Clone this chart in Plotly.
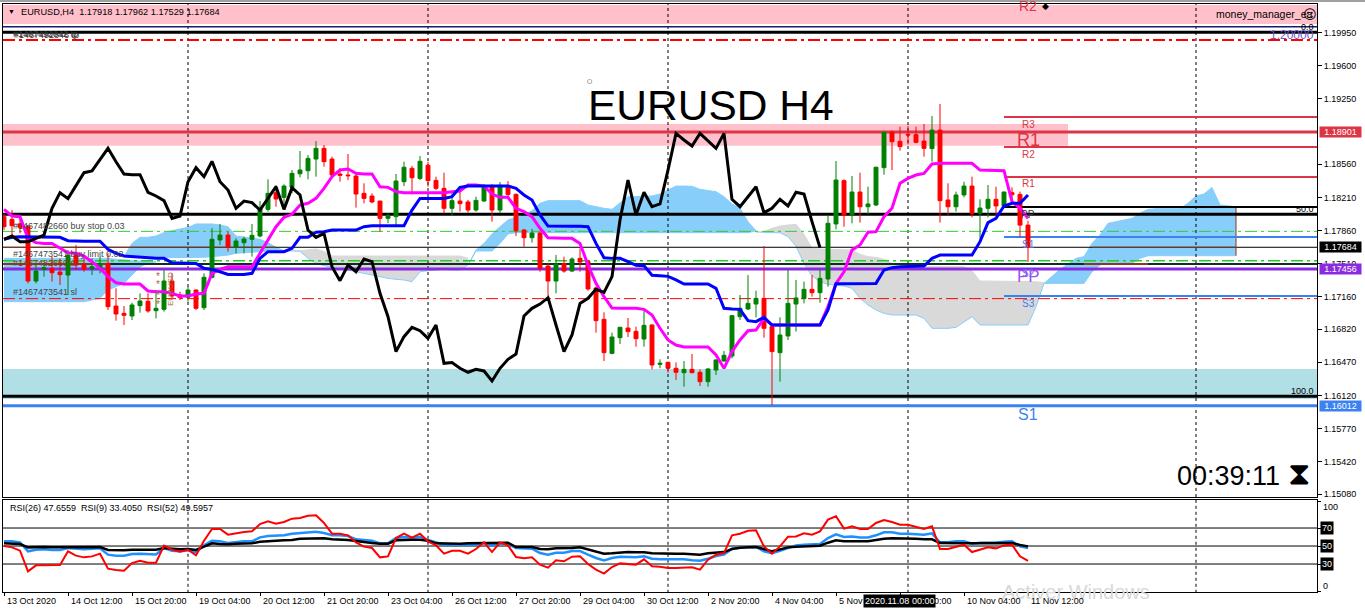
import plotly.graph_objects as go

W, H = 1365, 611
FONT = "Liberation Sans"

# price panel, H4 candles (first bar 13 Oct 2020)
opens = [1.18007,1.17979,1.17930,1.17908,1.17328,1.17451,1.17462,1.17423,1.17391,1.17620,
    1.17504,1.17458,1.17458,1.17514,1.17064,1.16987,1.16959,1.17068,1.17114,1.17015,
    1.17029,1.17328,1.17180,1.17156,1.17233,1.17047,1.17367,1.17761,1.17813,1.17683,
    1.17732,1.17768,1.17803,1.18084,1.18260,1.18211,1.18316,1.18460,1.18492,1.18615,
    1.18728,1.18615,1.18457,1.18446,1.18436,1.18253,1.18225,1.18172,1.17989,1.18007,
    1.18376,1.18517,1.18411,1.18549,1.18390,1.18306,1.18095,1.18172,1.18162,1.18077,
    1.18172,1.18330,1.18077,1.18337,1.18242,1.17866,1.17785,1.17834,1.17486,1.17328,
    1.17511,1.17433,1.17567,1.17536,1.17254,1.16924,1.16565,1.16730,1.16832,1.16797,
    1.16716,1.16864,1.16449,1.16470,1.16407,1.16361,1.16396,1.16365,1.16266,1.16389,
    1.16484,1.16537,1.16952,1.17033,1.17085,1.17145,1.16846,1.16572,1.16748,1.17085,
    1.17142,1.17240,1.17205,1.17349,1.17930,1.18387,1.18025,1.18267,1.18112,1.18130,
    1.18524,1.18897,1.18802,1.18876,1.18872,1.18805,1.18725,1.18921,1.18183,1.18112,
    1.18236,1.18330,1.18042,1.18095,1.18190,1.18120,1.18260,1.18242,1.17918]
highs = [1.18042,1.18077,1.18007,1.17919,1.17497,1.17514,1.17585,1.17567,1.17655,1.17708,
    1.17602,1.17567,1.17585,1.17620,1.17251,1.17064,1.17099,1.17198,1.17198,1.17233,
    1.17444,1.17409,1.17215,1.17268,1.17240,1.17409,1.17884,1.17930,1.17849,1.17778,
    1.17796,1.17930,1.18172,1.18401,1.18341,1.18348,1.18499,1.18700,1.18657,1.18805,
    1.18763,1.18640,1.18517,1.18668,1.18464,1.18359,1.18253,1.18172,1.18042,1.18457,
    1.18587,1.18542,1.18647,1.18587,1.18429,1.18471,1.18271,1.18271,1.18183,1.18218,
    1.18348,1.18351,1.18372,1.18383,1.18253,1.17877,1.17877,1.17849,1.17521,1.17602,
    1.17585,1.17578,1.17673,1.17550,1.17268,1.16998,1.16783,1.16846,1.16938,1.16846,
    1.17029,1.16871,1.16502,1.16477,1.16470,1.16484,1.16558,1.16396,1.16407,1.16502,
    1.16590,1.16969,1.17180,1.17391,1.17226,1.17697,1.16881,1.16945,1.17451,1.17339,
    1.17321,1.17391,1.17444,1.18024,1.18594,1.18401,1.18436,1.18471,1.18323,1.18535,
    1.18904,1.18915,1.18957,1.18964,1.18957,1.18985,1.19069,1.19196,1.18359,1.18271,
    1.18376,1.18429,1.18190,1.18341,1.18323,1.18271,1.18316,1.18271,1.17962]
lows = [1.17866,1.17778,1.17831,1.17303,1.17303,1.17374,1.17321,1.17286,1.17180,1.17444,
    1.17426,1.17391,1.17409,1.17022,1.16910,1.16864,1.16917,1.16994,1.16994,1.16934,
    1.17005,1.17145,1.17128,1.17110,1.17022,1.17022,1.17356,1.17708,1.17638,1.17620,
    1.17620,1.17585,1.17789,1.18060,1.18112,1.18077,1.18253,1.18422,1.18401,1.18429,
    1.18535,1.18429,1.18376,1.18394,1.18102,1.18148,1.18148,1.17849,1.17937,1.17901,
    1.18330,1.18242,1.18394,1.18323,1.18288,1.18042,1.18014,1.18060,1.18049,1.18060,
    1.18165,1.17954,1.18042,1.18200,1.17803,1.17690,1.17733,1.17426,1.17170,1.17198,
    1.17416,1.17426,1.17426,1.17226,1.16783,1.16484,1.16554,1.16663,1.16737,1.16635,
    1.16635,1.16396,1.16407,1.16361,1.16284,1.16213,1.16354,1.16220,1.16213,1.16336,
    1.16477,1.16512,1.16917,1.17022,1.16945,1.16730,1.16020,1.16266,1.16706,1.16794,
    1.17092,1.17163,1.17099,1.17268,1.17873,1.17901,1.17937,1.17944,1.18035,1.18120,
    1.18450,1.18499,1.18703,1.18770,1.18781,1.18640,1.18587,1.17944,1.18024,1.18060,
    1.18211,1.18000,1.17778,1.18000,1.18024,1.18112,1.18148,1.17789,1.17529]
closes = [1.17901,1.17912,1.17894,1.17328,1.17433,1.17469,1.17416,1.17395,1.17602,1.17497,
    1.17451,1.17479,1.17514,1.17057,1.16980,1.16966,1.17075,1.17117,1.17012,1.17040,
    1.17328,1.17170,1.17152,1.17233,1.17040,1.17367,1.17768,1.17813,1.17690,1.17750,
    1.17771,1.17810,1.18095,1.18253,1.18193,1.18330,1.18464,1.18499,1.18622,1.18728,
    1.18587,1.18446,1.18443,1.18439,1.18246,1.18200,1.18162,1.17989,1.18014,1.18383,
    1.18528,1.18418,1.18591,1.18387,1.18306,1.18095,1.18176,1.18144,1.18077,1.18179,
    1.18330,1.18077,1.18337,1.18242,1.17859,1.17785,1.17834,1.17462,1.17328,1.17507,
    1.17433,1.17560,1.17528,1.17244,1.16910,1.16572,1.16737,1.16839,1.16794,1.16720,
    1.16860,1.16442,1.16460,1.16407,1.16365,1.16396,1.16361,1.16266,1.16400,1.16495,
    1.16544,1.16962,1.17040,1.17092,1.17145,1.16829,1.16583,1.16758,1.17092,1.17149,
    1.17240,1.17205,1.17356,1.17937,1.18394,1.18025,1.18267,1.18112,1.18141,1.18528,
    1.18897,1.18798,1.18746,1.18869,1.18791,1.18728,1.18921,1.18176,1.18112,1.18236,
    1.18330,1.18042,1.18098,1.18190,1.18120,1.18267,1.18239,1.17918,1.17684]

# ichimoku lines
chikou = [1.17768,1.17803,1.17743,1.17743,1.17778,1.17813,1.18095,1.18260,1.18197,1.18341,
    1.18471,1.18489,1.18612,1.18728,1.18587,1.18457,1.18450,1.18450,1.18264,1.18225,
    1.18176,1.17989,1.18014,1.18376,1.18524,1.18429,1.18591,1.18376,1.18288,1.18095,
    1.18172,1.18155,1.18077,1.18200,1.18323,1.18084,1.18313,1.18236,1.17866,1.17789,
    1.17831,1.17479,1.17332,1.17497,1.17426,1.17560,1.17532,1.17198,1.16952,1.16583,
    1.16741,1.16839,1.16804,1.16723,1.16864,1.16460,1.16467,1.16407,1.16365,1.16396,
    1.16379,1.16273,1.16407,1.16502,1.16558,1.16959,1.17040,1.17085,1.17152,1.16864,
    1.16583,1.16759,1.17092,1.17145,1.17240,1.17208,1.17374,1.17972,1.18394,1.18025,
    1.18264,1.18112,1.18141,1.18499,1.18886,1.18816,1.18753,1.18886,1.18809,1.18728,
    1.18886,1.18190,1.18112,1.18218,1.18323,1.18049,1.18095,1.18190,1.18120,1.18264,
    1.18246,1.17954,1.17680]
tenkan = [1.18084,1.18014,1.18007,1.17778,1.17733,1.17725,1.17725,1.17673,1.17627,1.17620,
    1.17592,1.17532,1.17462,1.17374,1.17310,1.17296,1.17296,1.17296,1.17223,1.17215,
    1.17215,1.17198,1.17170,1.17170,1.17191,1.17198,1.17409,1.17451,1.17479,1.17479,
    1.17479,1.17479,1.17620,1.17761,1.17901,1.18000,1.18032,1.18130,1.18148,1.18200,
    1.18306,1.18429,1.18499,1.18510,1.18464,1.18457,1.18457,1.18323,1.18316,1.18271,
    1.18260,1.18260,1.18260,1.18260,1.18260,1.18260,1.18271,1.18278,1.18341,1.18341,
    1.18330,1.18246,1.18211,1.18211,1.18095,1.18060,1.18007,1.17884,1.17785,1.17778,
    1.17778,1.17778,1.17725,1.17497,1.17303,1.17163,1.17043,1.17040,1.17040,1.17040,
    1.17029,1.16969,1.16829,1.16706,1.16653,1.16632,1.16632,1.16632,1.16632,1.16548,
    1.16407,1.16583,1.16706,1.16804,1.16811,1.16934,1.16864,1.16864,1.16864,1.16864,
    1.16864,1.16864,1.16864,1.17057,1.17303,1.17426,1.17655,1.17708,1.17842,1.17849,
    1.18007,1.18095,1.18359,1.18411,1.18446,1.18464,1.18563,1.18570,1.18570,1.18570,
    1.18570,1.18570,1.18499,1.18499,1.18499,1.18492,1.18165,1.18095,1.17989]
kijun = [1.17768,1.17789,1.17796,1.17796,1.17796,1.17796,1.17796,1.17789,1.17754,1.17747,
    1.17747,1.17747,1.17747,1.17662,1.17620,1.17592,1.17585,1.17578,1.17567,1.17567,
    1.17567,1.17521,1.17518,1.17518,1.17514,1.17462,1.17451,1.17426,1.17398,1.17398,
    1.17398,1.17409,1.17567,1.17638,1.17638,1.17638,1.17673,1.17789,1.17789,1.17842,
    1.17849,1.17866,1.17866,1.17866,1.17866,1.17901,1.17912,1.17912,1.17912,1.17912,
    1.17912,1.18077,1.18200,1.18200,1.18200,1.18200,1.18218,1.18316,1.18330,1.18330,
    1.18330,1.18330,1.18330,1.18330,1.18306,1.18236,1.18183,1.18025,1.17908,1.17905,
    1.17905,1.17905,1.17905,1.17901,1.17725,1.17574,1.17567,1.17567,1.17532,1.17493,
    1.17490,1.17388,1.17384,1.17377,1.17339,1.17296,1.17296,1.17296,1.17296,1.17251,
    1.17040,1.17033,1.17029,1.16910,1.16899,1.16945,1.16864,1.16864,1.16864,1.16864,
    1.16864,1.16864,1.16864,1.17022,1.17300,1.17300,1.17300,1.17300,1.17300,1.17303,
    1.17444,1.17469,1.17479,1.17479,1.17479,1.17486,1.17567,1.17602,1.17602,1.17602,
    1.17602,1.17602,1.17743,1.17944,1.17989,1.18120,1.18148,1.18148,1.18236]

# cloud pieces, each starts at the bar index given in cloud_starts
cloud_starts = [0, 15, 35, 58, 94, 130]
blue1_top = [1.17567]*14 + [1.17557,1.17550,1.17543,1.17539,1.17532,1.17532]
blue1_bot = [1.17110]*11 + [1.17128,1.17145,1.17233,1.17268,1.17303,1.17391,1.17479,1.17514,1.17532]
blue2_top = [1.17585,1.17725,1.17789,1.17789,1.17803,1.17838,1.17859,1.17873,1.17894,1.17930,1.17930,
    1.17930,1.17919,1.17901,1.17803,1.17789,1.17775,1.17768,1.17733,1.17683,1.17648]
blue2_bot = [1.17585,1.17585,1.17585,1.17585,1.17578,1.17574,1.17574,1.17574,1.17578,1.17578,1.17578,
    1.17585,1.17592,1.17602,1.17620,1.17627,1.17638,1.17638,1.17638,1.17638,1.17648]
gray1_top = [1.17648,1.17655,1.17648,1.17655,1.17666,1.17638] + [1.17592]*17 + [1.17567]
gray1_bot = [1.17648,1.17648,1.17641,1.17567,1.17514,1.17490,1.17472,1.17458,1.17444,1.17426,1.17409,
    1.17391,1.17374,1.17356,1.17346,1.17339,1.17321,1.17426,1.17437,1.17444,1.17451,1.17444,1.17444,1.17497]
blue3_top = [1.17497,1.17655,1.17725,1.17824,1.17901,1.17972,1.18000,1.18025,1.18070,1.18148,
    1.18176,1.18176,1.18176,1.18176,1.18176,1.18130,1.18112,1.18095,1.18084,1.18148,1.18218,1.18218,
    1.18225,1.18225,1.18246,1.18288,1.18330,1.18330,1.18327,1.18295,1.18281,1.18271,1.18218,1.18141,
    1.18095,1.17954,1.17859]
blue3_bot = [1.17497,1.17645,1.17645,1.17645,1.17725,1.17824] + [1.17838]*30 + [1.17859]
gray2_top = [1.17849,1.17849,1.17884,1.17908,1.17919,1.17926,1.17821,1.17673,1.17666,1.17662,1.17662,
    1.17655,1.17655,1.17610,1.17585,1.17578,1.17557,1.17514] + [1.17479]*9 + [1.17437] + [1.17328]*6 + [1.17321,1.17321,1.17311]
gray2_bot = [1.17845,1.17838,1.17838,1.17838,1.17796,1.17697,1.17514,1.17381,1.17321,1.17293,1.17286,
    1.17275,1.17251,1.17145,1.17075,1.17022,1.16987,1.16969,1.16969,1.16969,1.16969,1.16934,1.16829,
    1.16829,1.16829,1.16839,1.16899,1.16952] + [1.16864]*7 + [1.17057,1.17303]
blue4_top = [1.17303,1.17381,1.17451,1.17507,1.17567,1.17585,1.17725,1.17813,1.17937,1.17954,1.17972,
    1.17989,1.18042,1.18084,1.18091,1.18091,1.18091,1.18091,1.18148,1.18225,1.18246,1.18316,1.18130,
    1.18123,1.18112]
blue4_bot = [1.17303]*6 + [1.17426,1.17497,1.17514,1.17514,1.17514,1.17514,1.17567] + [1.17595]*12

# horizontal objects
fibo_levels = [1.19952, 1.18032, 1.16111]
pivot_red = [1.19059, 1.18742, 1.18425]
pivot_blue = [1.17792, 1.17456, 1.17170]
pivot_pp = 1.18109
pivot_start = 125
line_navy = 1.20012
line_tp = 1.19871
line_sl = 1.17142
line_buy_stop = 1.17852
line_limit = 1.17543
line_dark = 1.17508
res_level = 1.18901
sup_level = 1.16012
pp_level = 1.17456
bid = 1.17684
session_bars = [23, 53, 83, 113, 149]
last_cloud_bar = 154
kumo_edge = [1.18112, 1.17595]
pink_top = [1.20240, 1.20040]
pink_zone = [1.18985, 1.18756]
pink_zone_end = 133
teal_zone = [1.16400, 1.16083]

price_ticks = [1.19950,1.19600,1.19250,1.18560,1.18210,1.17860,1.17510,1.17160,1.16820,1.16470,1.16120,1.15770,1.15420,1.15080]
price_tags = [(1.18901, "#DC3545"), (1.17684, "black"), (1.17456, "#8A2BE2"), (1.16012, "#3B82F0")]

time_ticks = list(range(0, 129, 8))
time_labels = ["13 Oct 2020","14 Oct 12:00","15 Oct 20:00","19 Oct 04:00","20 Oct 12:00","21 Oct 20:00",
    "23 Oct 04:00","26 Oct 12:00","27 Oct 20:00","29 Oct 04:00","30 Oct 12:00","2 Nov 20:00","4 Nov 04:00",
    "5 Nov 12:00","6 Nov 20:00","10 Nov 04:00","11 Nov 12:00"]

# RSI panel
rsi_levels = [70, 50, 30]
rsi_ticks = [100, 70, 50, 30, 0]
rsi9 = [50.0,48.5,44.8,21.9,28.5,28.9,28.9,28.9,44.1,39.3,37.4,38.5,41.5,24.8,23.3,22.6,31.1,33.7,31.5,31.5,
    50.4,45.9,43.7,45.9,39.6,55.9,68.9,68.9,62.6,64.4,65.6,66.3,74.4,77.4,74.8,76.7,80.4,81.1,83.7,84.1,
    75.6,63.7,63.7,61.9,54.1,49.3,47.8,37.4,38.5,58.9,63.7,59.3,63.7,55.2,50.7,41.5,44.8,44.8,41.5,46.7,
    54.1,43.3,54.1,50.7,37.8,36.3,37.4,29.3,25.9,34.1,33.0,38.1,38.5,30.0,23.7,19.3,26.7,30.7,30.0,29.3,
    35.2,27.4,27.0,25.6,25.6,26.3,26.3,23.7,34.8,40.4,42.2,61.9,63.7,67.0,67.4,49.6,41.5,49.6,60.4,60.7,
    64.1,62.6,66.3,79.3,83.0,69.3,71.9,68.9,68.9,75.6,78.9,76.7,73.7,73.7,71.5,68.9,71.9,46.7,46.7,48.9,
    51.5,43.3,45.6,48.5,47.4,50.7,51.5,38.5,33.4]
rsi26 = [55.2,55.2,54.1,44.1,45.9,46.3,45.6,45.6,47.8,46.7,46.3,47.0,47.4,40.4,39.3,39.3,41.1,41.5,40.7,40.7,
    47.8,44.8,44.1,45.2,43.0,50.7,55.9,55.2,53.3,54.4,55.2,55.2,59.6,61.1,61.5,61.9,63.7,64.4,65.6,65.9,
    64.4,61.9,61.9,61.1,57.4,56.3,55.9,53.0,53.0,58.9,60.0,59.3,60.4,56.7,54.1,51.5,51.1,51.1,50.7,51.5,
    53.7,50.7,53.0,52.2,47.8,47.0,47.0,42.2,40.4,42.6,42.6,44.4,44.4,40.4,36.7,34.1,36.7,38.1,37.8,37.4,
    38.5,35.9,35.2,35.2,35.2,35.2,34.1,33.7,35.9,38.9,40.4,47.0,48.1,48.5,48.9,44.1,41.9,44.8,47.8,50.7,
    51.5,51.5,52.2,58.9,63.0,60.0,60.7,59.6,59.6,61.9,65.2,65.2,63.7,63.7,63.3,62.6,64.1,54.1,54.1,55.2,
    55.2,52.6,53.7,53.7,53.7,54.8,55.2,49.6,47.66]
rsi52 = [53.0,53.0,52.2,48.5,48.9,48.9,48.5,48.5,49.3,48.5,48.5,48.9,48.9,45.6,45.2,45.2,45.9,46.3,45.9,45.9,
    47.8,47.0,46.3,46.7,45.6,49.3,53.0,52.2,51.9,52.6,53.0,53.0,54.8,55.6,55.9,56.3,56.7,58.1,58.5,58.5,
    58.5,57.4,57.4,56.7,55.6,54.1,53.3,52.6,52.6,56.3,57.0,57.0,57.0,55.9,53.0,52.6,52.6,52.6,53.0,53.0,
    53.3,53.0,53.0,53.7,48.9,48.9,48.9,46.7,46.3,47.4,47.4,47.8,48.5,45.9,43.3,41.5,41.9,43.0,43.3,43.0,
    43.0,41.9,41.5,41.5,41.5,41.5,41.1,40.4,41.9,42.6,43.3,46.7,48.1,48.5,48.9,46.7,44.1,46.3,48.5,49.3,
    49.6,49.6,50.4,53.7,56.3,55.2,55.2,55.2,55.2,56.7,58.1,58.5,58.5,58.1,58.1,57.4,57.4,53.3,53.0,53.3,
    53.0,53.0,53.0,53.0,53.0,53.3,53.3,51.1,49.6]

X_MIN, X_MAX = -0.125, 164.125
Y_MIN, Y_MAX = 1.15049, 1.20251
bars = list(range(129))

fig = go.Figure()


def hline(level, color, width=1, dash="solid", start=X_MIN, end=X_MAX):
    fig.add_trace(go.Scatter(x=[start, end], y=[level, level], mode="lines",
                             line=dict(color=color, width=width, dash=dash), hoverinfo="skip"))


def cloud(start, top, bot, fill, top_edge, bot_edge):
    xs = list(range(start, start + len(top)))
    fig.add_trace(go.Scatter(x=xs, y=bot, mode="lines", line=dict(color=bot_edge, width=1), hoverinfo="skip"))
    fig.add_trace(go.Scatter(x=xs, y=top, mode="lines", fill="tonexty", fillcolor=fill,
                             line=dict(color=top_edge, width=1), hoverinfo="skip"))


SKY, GREY = "#87CEFA", "#D9D9D9"
cloud(cloud_starts[0], blue1_top, blue1_bot, SKY, SKY, SKY)
cloud(cloud_starts[1], blue2_top, blue2_bot, SKY, SKY, SKY)
cloud(cloud_starts[2], gray1_top, gray1_bot, GREY, GREY, SKY)
cloud(cloud_starts[3], blue3_top, blue3_bot, SKY, SKY, SKY)
cloud(cloud_starts[4], gray2_top, gray2_bot, GREY, GREY, SKY)
cloud(cloud_starts[5], blue4_top, blue4_bot, SKY, SKY, SKY)

for b in session_bars:
    fig.add_trace(go.Scatter(x=[b, b], y=[Y_MIN, Y_MAX], mode="lines",
                             line=dict(color="black", width=1, dash="3px,3px"), hoverinfo="skip"))
    fig.add_trace(go.Scatter(x=[b, b], y=[-2, 103], xaxis="x2", yaxis="y2", mode="lines",
                             line=dict(color="black", width=1, dash="3px,3px"), hoverinfo="skip"))

# order and pivot lines
hline(line_navy, "#191970", 1.5)
hline(line_tp, "#FF0000", 2, "12px,4px,3px,4px")
hline(line_sl, "#FF0000", 1, "12px,4px,3px,4px")
hline(line_buy_stop, "#32CD32", 1, "12px,4px,3px,4px")
hline(line_limit, "#22CC22", 1.5, "12px,4px,3px,4px")
hline(bid, "black", 1)
hline(bid, "#8B3A1A", 1, end=34)
hline(bid, "#8B3A1A", 1, start=136, end=last_cloud_bar)
hline(line_dark, "#0F3020", 2)
hline(line_dark, "#8B3A1A", 2, end=13)
hline(line_dark, "#8B3A1A", 2, start=135, end=143)
fig.add_trace(go.Scatter(x=[last_cloud_bar, last_cloud_bar], y=kumo_edge, mode="lines",
                         line=dict(color="#8B3A1A", width=1), hoverinfo="skip"))
for lv in pivot_red:
    hline(lv, "#DC3545", 2, start=pivot_start)
hline(pivot_pp, "black", 2, start=pivot_start)
for lv in pivot_blue:
    hline(lv, "#3B82F0", 2, start=pivot_start)
hline(res_level, "#DC3545", 3)
hline(pp_level, "#8A2BE2", 3)
hline(sup_level, "#3B82F0", 3)
for lv in fibo_levels:
    hline(lv, "black", 3)

# candles and indicators sit on an overlay axis so they stay above the lines
fig.add_trace(go.Candlestick(x=bars, open=opens, high=highs, low=lows, close=closes, yaxis="y3",
                             increasing=dict(line=dict(color="#008000", width=1), fillcolor="#008000"),
                             decreasing=dict(line=dict(color="#FF0000", width=1), fillcolor="#FF0000"),
                             whiskerwidth=0, hoverinfo="skip"))
fig.add_trace(go.Scatter(x=bars, y=tenkan, yaxis="y3", mode="lines", line=dict(color="#FF00FF", width=3), hoverinfo="skip"))
fig.add_trace(go.Scatter(x=bars, y=kijun, yaxis="y3", mode="lines", line=dict(color="#0000FF", width=3), hoverinfo="skip"))
fig.add_trace(go.Scatter(x=bars[:len(chikou)], y=chikou, yaxis="y3", mode="lines", line=dict(color="black", width=3), hoverinfo="skip"))

for lv in rsi_levels:
    fig.add_trace(go.Scatter(x=[X_MIN, X_MAX], y=[lv, lv], xaxis="x2", yaxis="y2", mode="lines",
                             line=dict(color="black", width=1), hoverinfo="skip"))
fig.add_trace(go.Scatter(x=bars, y=rsi26, xaxis="x2", yaxis="y2", mode="lines", line=dict(color="#1E90FF", width=2.5), hoverinfo="skip"))
fig.add_trace(go.Scatter(x=bars, y=rsi52, xaxis="x2", yaxis="y2", mode="lines", line=dict(color="black", width=2.5), hoverinfo="skip"))
fig.add_trace(go.Scatter(x=bars, y=rsi9, xaxis="x2", yaxis="y2", mode="lines", line=dict(color="#FF0000", width=2), hoverinfo="skip"))

# zones stay under everything
shapes = [
    dict(type="rect", xref="x", yref="y", x0=X_MIN, x1=X_MAX, y0=pink_top[1], y1=pink_top[0], fillcolor="#FFC0CB", line_width=0, layer="below"),
    dict(type="rect", xref="x", yref="y", x0=X_MIN, x1=pink_zone_end, y0=pink_zone[1], y1=pink_zone[0], fillcolor="#FFC0CB", line_width=0, layer="below"),
    dict(type="rect", xref="x", yref="y", x0=X_MIN, x1=X_MAX, y0=teal_zone[1], y1=teal_zone[0], fillcolor="#B0E0E6", line_width=0, layer="below"),
    dict(type="rect", xref="paper", yref="paper", x0=0, x1=1, y0=1 - 2 / H, y1=1, fillcolor="#A0A0A0", line_width=0),
]

annotations = []


def label(x, y, text, size=9, color="black", anchor="left", family=FONT, **kw):
    annotations.append(dict(x=x / W, y=1 - y / H, xref="paper", yref="paper", text=text, showarrow=False,
                            xanchor=anchor, yanchor="middle", font=dict(family=family, size=size, color=color), **kw))


label(6, 12, "▼", 7)
label(19, 12, "EURUSD,H4  1.17918 1.17962 1.17529 1.17684", 9.2)
label(1214, 14, "money_manager_ea", 10.5)
label(1301, 14, "☺", 13, family="DejaVu Sans")
label(1028, 6, "R2", 14, "#DC3545", "center")
label(1040, 6, "◆", 9, family="DejaVu Sans")
label(11, 34, "#1467492842 tp", 9, "#333333")
label(11.7, 35, "#1467492846 tp", 9, "#333333")
label(11, 226, "#1467482660 buy stop 0.03", 9, "#444444")
label(11, 254, "#1467473541 buy limit 0.02", 9, "#444444")
label(11, 263, "#1467482660 sl", 9, "#8B3A1A")
label(11, 292, "#1467473541 sl", 9, "#444444")
for sy in (276, 285, 295, 304):
    label(158, sy, "*", 10, "#A0703C", "center")
label(170, 289, "EURUSD", 8, "#A0703C", "center", textangle=-90)
label(585, 81, "○", 6, family="DejaVu Sans")
label(586, 105, "EURUSD H4", 42.5)
label(1028, 124, "R3", 10, "#DC3545", "center")
label(1028, 140, "R1", 18, "#DC3545", "center")
label(1028, 154, "R2", 10, "#DC3545", "center")
label(1028, 184, "R1", 10, "#DC3545", "center")
label(1028, 214, "PP", 10, "#333333", "center")
label(1028, 244, "S1", 10, "#3B82F0", "center")
label(1028, 273, "S2", 10, "#3B82F0", "center")
label(1028, 276, "PP", 17, "#A050F0", "center")
label(1028, 303, "S3", 10, "#3B82F0", "center")
label(1028, 414, "S1", 16, "#3B82F0", "center")
label(1316, 27, "0.0", 9, "black", "right")
label(1316, 35, "1.20000", 12, "#6A5ACD", "right")
label(1316, 209, "50.0", 9, "black", "right")
label(1316, 391, "100.0", 9, "black", "right")
label(1175, 476, "00:39:11", 27)
label(1299, 473, "⧗", 32, "black", "center", family="DejaVu Sans")
label(8, 508, "RSI(26) 47.6559  RSI(9) 33.4050  RSI(52) 49.5957", 9)
label(1000, 592, "Activer Windows", 20, "#D8D8D8")
label(1321, 507, "100", 9)
label(1321, 586, "0", 9)

for price, colour in price_tags:
    annotations.append(dict(x=1319 / W, y=price, xref="paper", yref="y", text=f"{price:.5f}", showarrow=False,
                            xanchor="left", yanchor="middle", bgcolor=colour, borderpad=0, width=41, height=10,
                            font=dict(family=FONT, size=9, color="white")))
for lv in rsi_levels:
    annotations.append(dict(x=1320 / W, y=lv, xref="paper", yref="y2", text=str(lv), showarrow=False,
                            xanchor="left", yanchor="middle", bgcolor="black", borderpad=1,
                            font=dict(family=FONT, size=9, color="white")))
for t, s in zip(time_ticks, time_labels):
    annotations.append(dict(x=t, y=1 - 601 / H, xref="x2", yref="paper", text=s, showarrow=False,
                            xanchor="left", yanchor="middle", xshift=1, font=dict(family=FONT, size=9, color="black")))
annotations.append(dict(x=899 / W, y=1 - 601 / H, xref="paper", yref="paper", text="2020.11.08 00:00", showarrow=False,
                        xanchor="center", yanchor="middle", bgcolor="black", borderpad=1,
                        font=dict(family=FONT, size=9, color="white")))

x_dom = [3 / W, 1317 / W]
fig.update_layout(
    width=W, height=H, margin=dict(l=0, r=0, t=0, b=0, pad=0), showlegend=False,
    paper_bgcolor="white", plot_bgcolor="white", shapes=shapes, annotations=annotations,
    font=dict(family=FONT, size=9, color="black"),
    xaxis=dict(domain=x_dom, range=[X_MIN, X_MAX], anchor="y", showgrid=False, zeroline=False, showticklabels=False,
               showline=True, linecolor="black", linewidth=1, mirror=True, rangeslider=dict(visible=False), automargin=False),
    yaxis=dict(domain=[1 - 497 / H, 1 - 4 / H], range=[Y_MIN, Y_MAX], anchor="x", side="right", showgrid=False,
               zeroline=False, showline=True, linecolor="black", linewidth=1, mirror=True, tickvals=price_ticks,
               ticktext=[f"{p:.5f}" for p in price_ticks], ticks="outside", ticklen=4, tickcolor="black", automargin=False),
    yaxis3=dict(range=[Y_MIN, Y_MAX], overlaying="y", anchor="x", side="right", visible=False, automargin=False),
    xaxis2=dict(domain=x_dom, range=[X_MIN, X_MAX], anchor="y2", showgrid=False, zeroline=False, showticklabels=False,
                showline=True, linecolor="black", linewidth=1, mirror=True, tickvals=time_ticks, ticks="outside",
                ticklen=3, tickcolor="black", automargin=False),
    yaxis2=dict(domain=[1 - 592 / H, 1 - 499.5 / H], range=[-1.1, 101.7], anchor="x2", side="right", showgrid=False,
                zeroline=False, showline=True, linecolor="black", linewidth=1, mirror=True, tickvals=rsi_ticks,
                showticklabels=False, ticks="outside", ticklen=3, tickcolor="black", automargin=False),
)

fig.write_html("out.html", config=dict(displayModeBar=False),
               post_script="document.body.style.margin='0';document.body.style.overflow='hidden';")
